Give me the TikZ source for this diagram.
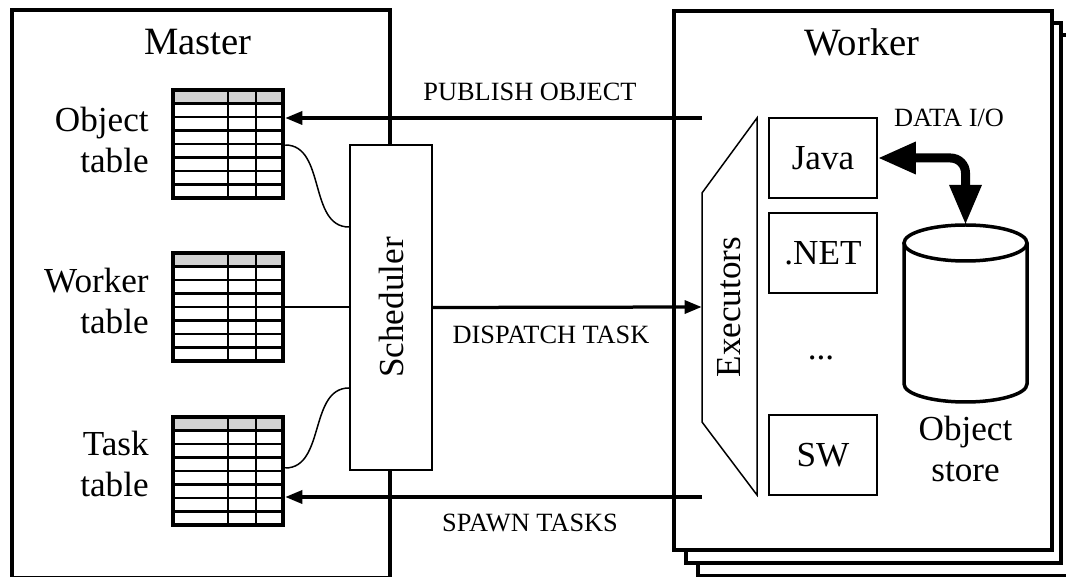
\documentclass[tikz,border=0pt]{standalone}
\usepackage{fontspec}
\setmainfont{Liberation Serif}
\usepackage{graphicx}
\usetikzlibrary{arrows.meta}

\begin{document}
\begin{tikzpicture}[x=0.2mm,y=-0.2mm,
 frame/.style={line width=0.8mm},
 tab/.style={draw,line width=0.9mm,minimum width=22mm,minimum height=21.6mm,inner sep=0},
 sched/.style={draw,fill=white,line width=0.4mm,minimum width=16.4mm,minimum height=65mm,inner sep=0},
 lang/.style={draw,line width=0.3mm,minimum width=21.6mm,minimum height=16mm,inner sep=0},
 flow/.style={line width=0.65mm,-{Triangle[length=3.4mm,width=2.6mm]}},
 link/.style={line width=0.3mm},
 ioarrow/.style={line width=1.8mm,rounded corners=3mm,{Triangle[length=7.6mm,width=6mm]}-{Triangle[length=8mm,width=6mm]}},
 boxtitle/.style={font=\fontsize{22}{26}\selectfont},
 bigtext/.style={font=\fontsize{20}{23}\selectfont},
 caps/.style={font=\fontsize{15}{18}\selectfont}]
 \useasboundingbox (0,0) rectangle (1066,577);
 \draw[frame] (12,10) rectangle (390,578);
 \draw[frame,fill=white] (698,35) rectangle (1080,576);
 \draw[frame,fill=white] (686,23) rectangle (1061,563);
 \draw[frame,fill=white] (674,11) rectangle (1052,550);
 \node[boxtitle] (master) at (198,42) {Master};
 \node[boxtitle] (worker) at (862,42) {Worker};

 \foreach \n/\ty in {objtab/90,wrktab/253,tsktab/417}{
  \fill[gray!35] (173,\ty) rectangle (283,\ty+13.5);
  \foreach \r in {1,...,7}
   \draw[line width=0.45mm] (173,\ty+13.5*\r) -- (283,\ty+13.5*\r);
  \draw[line width=0.45mm] (228,\ty) -- (228,\ty+108) (256,\ty) -- (256,\ty+108);
  \node[tab] (\n) at (228,\ty+54) {};
 }
 \node[bigtext,align=right,anchor=east,inner sep=0] (objlbl) at (149,140) {Object\\table};
 \node[bigtext,align=right,anchor=east,inner sep=0] (wrklbl) at (149,301) {Worker\\table};
 \node[bigtext,align=right,anchor=east,inner sep=0] (tsklbl) at (149,464) {Task\\table};

 \node[sched,bigtext] (sched) at (391,307.5) {\rotatebox{90}{Scheduler}};
 \draw[link] (objtab.east |- 0,145) to[out=0,in=180] (sched.west |- 0,227);
 \draw[link] (wrktab.east) -- (sched.west |- wrktab.east);
 \draw[link] (tsktab.east |- 0,468) to[out=0,in=180] (sched.west |- 0,388);

 \draw[line width=0.3mm] (757,118) -- (702,193) -- (702,422) -- (757,495) -- cycle;
 \node[bigtext,minimum width=11mm,inner sep=0] (exec) at (729.5,307) {\rotatebox{90}{Executors}};

 \node[lang,bigtext] (java) at (823,158) {Java};
 \node[lang,bigtext] (dotnet) at (823,253) {.NET};
 \node[bigtext] (dots) at (821,358) {...};
 \node[lang,bigtext] (sw) at (823,455) {SW};

 \draw[line width=0.7mm] (904,243) -- (904,384) arc[start angle=180,end angle=0,x radius=61.5,y radius=18] -- (1027,243);
 \draw[line width=0.7mm] (965.5,243) ellipse [x radius=61.5,y radius=18];
 \node[bigtext,align=center] (storelbl) at (965.5,449) {Object\\store};
 \coordinate (storetop) at (965.5,225);
 \draw[ioarrow] (java.east) -| (storetop);
 \node[caps] (iolbl) at (949,118) {DATA I/O};

 \coordinate (pubsrc) at (702,118);
 \coordinate (spawnsrc) at (702,497);
 \draw[flow] (pubsrc) -- (objtab.east |- pubsrc);
 \draw[flow] (spawnsrc) -- (tsktab.east |- spawnsrc);
 \draw[flow] (sched.east) -- (exec.west);
 \node[caps] (publbl) at (530,92) {PUBLISH OBJECT};
 \node[caps] (displbl) at (551,335) {DISPATCH TASK};
 \node[caps] (spawnlbl) at (530,523) {SPAWN TASKS};
\end{tikzpicture}
\end{document}
